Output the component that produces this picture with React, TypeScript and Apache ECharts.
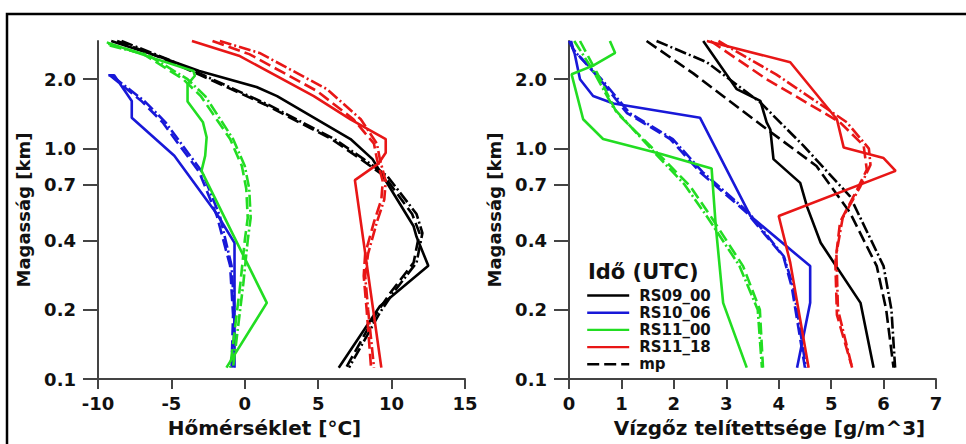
import React, { useEffect, useRef } from "react";
import * as echarts from "echarts";

// Heights (km) on a log axis
const yTicks = [0.1, 0.2, 0.4, 0.7, 1.0, 2.0];
const yMin = 0.1;
const yMax = 2.93;
const tempTicks = { min: -10, max: 15, interval: 5 };
const wvTicks = { min: 0, max: 7, interval: 1 };

// ---------- Left panel: temperature [°C] vs height [km] ----------
const tRS09_00 = [[-9.1, 2.93], [-6.0, 2.53], [-3.1, 2.17], [0.8, 1.85], [2.2, 1.69], [7.2, 1.1], [8.7, 0.9], [9.4, 0.76], [11.5, 0.46], [11.7, 0.414], [12.5, 0.31], [9.2, 0.207], [6.4, 0.112]];
const tMp09 = [[-8.7, 2.93], [-5.5, 2.45], [-3.0, 2.08], [1.4, 1.55], [5.9, 1.1], [7.9, 0.9], [9.5, 0.76], [11.4, 0.52], [11.9, 0.43], [11.5, 0.32], [9.9, 0.236], [9.0, 0.194], [6.9, 0.112]];
const tDd09 = [[-8.4, 2.93], [-5.3, 2.45], [-2.8, 2.08], [1.6, 1.55], [6.1, 1.1], [8.1, 0.9], [9.7, 0.76], [11.7, 0.52], [12.1, 0.43], [11.7, 0.32], [10.1, 0.236], [9.2, 0.194], [7.1, 0.112]];

const tRS10_06 = [[-9.3, 2.08], [-8.9, 2.08], [-7.7, 1.61], [-7.7, 1.36], [-4.8, 0.93], [-1.9, 0.52], [-0.7, 0.39], [-0.7, 0.112]];
const tMp10 = [[-9.2, 2.08], [-7.0, 1.6], [-5.6, 1.3], [-3.1, 0.79], [-1.9, 0.51], [-1.0, 0.31], [-0.8, 0.19], [-0.9, 0.112]];
const tDd10 = [[-9.0, 2.06], [-6.8, 1.6], [-5.4, 1.3], [-2.9, 0.79], [-1.7, 0.51], [-0.9, 0.31], [-0.7, 0.19], [-0.8, 0.112]];

const tRS11_00 = [[-9.4, 2.89], [-6.5, 2.5], [-3.5, 2.17], [-3.4, 2.07], [-3.9, 1.9], [-3.9, 1.6], [-2.85, 1.3], [-2.6, 1.12], [-2.7, 0.93], [-2.95, 0.8], [1.5, 0.214], [-1.25, 0.112]];
const tMp11 = [[-9.3, 2.85], [-6.9, 2.57], [-4.2, 2.0], [-3.0, 1.69], [-1.0, 1.1], [-0.2, 0.84], [0.1, 0.67], [0.2, 0.5], [0.0, 0.4], [-0.3, 0.26], [-0.7, 0.16], [-1.0, 0.112]];
const tDd11 = [[-9.2, 2.8], [-6.6, 2.55], [-3.9, 2.0], [-2.7, 1.69], [-0.8, 1.1], [0.0, 0.84], [0.3, 0.67], [0.4, 0.5], [0.2, 0.4], [-0.1, 0.26], [-0.5, 0.16], [-0.8, 0.112]];

const tRS11_18 = [[-3.6, 2.93], [-0.4, 2.53], [4.7, 1.69], [7.2, 1.34], [9.6, 1.1], [9.6, 0.96], [9.1, 0.86], [7.5, 0.73], [9.3, 0.112]];
const tMp18 = [[-2.2, 2.93], [0.3, 2.57], [4.9, 1.78], [7.4, 1.34], [8.8, 1.05], [9.0, 0.9], [9.4, 0.72], [9.3, 0.6], [8.8, 0.48], [8.2, 0.35], [8.1, 0.28], [8.3, 0.2], [8.6, 0.112]];
const tDd18 = [[-1.7, 2.93], [1.0, 2.6], [5.6, 1.81], [7.9, 1.34], [9.0, 1.05], [9.2, 0.9], [9.6, 0.72], [9.5, 0.6], [9.0, 0.48], [8.4, 0.35], [8.2, 0.28], [8.4, 0.2], [8.8, 0.112]];

// ---------- Right panel: water vapour saturation [g/m^3] vs height [km] ----------
const wRS09_00 = [[2.56, 2.93], [3.2, 1.81], [3.65, 1.61], [3.77, 1.3], [3.84, 1.21], [3.9, 0.9], [4.41, 0.71], [4.54, 0.56], [4.8, 0.39], [5.56, 0.214], [5.81, 0.112]];
const wMp09 = [[1.48, 2.93], [2.37, 2.12], [3.52, 1.34], [4.72, 0.84], [5.36, 0.527], [5.87, 0.309], [6.05, 0.2], [6.19, 0.112]];
const wDd09 = [[1.67, 2.93], [2.63, 2.37], [3.65, 1.585], [4.47, 1.03], [5.36, 0.62], [6.0, 0.309], [6.15, 0.2], [6.22, 0.112]];

const wRS10_06 = [[0.02, 2.93], [0.11, 2.57], [0.21, 2.0], [0.46, 1.69], [0.85, 1.57], [2.5, 1.36], [3.46, 0.51], [4.6, 0.309], [4.6, 0.214], [4.35, 0.112]];
const wMp10 = [[0.04, 2.93], [0.08, 2.7], [0.59, 2.0], [1.1, 1.43], [1.93, 1.1], [2.5, 0.79], [3.39, 0.527], [4.09, 0.34], [4.25, 0.25], [4.5, 0.112]];
const wDd10 = [[0.0, 2.93], [0.1, 2.65], [0.62, 2.0], [1.15, 1.43], [1.98, 1.1], [2.55, 0.79], [3.43, 0.527], [4.1, 0.34], [4.28, 0.25], [4.52, 0.112]];

const wRS11_00 = [[0.78, 2.93], [0.88, 2.6], [0.46, 2.29], [0.05, 2.1], [0.27, 1.34], [0.65, 1.1], [1.74, 0.95], [2.72, 0.82], [2.8, 0.46], [2.94, 0.214], [3.39, 0.112]];
const wMp11 = [[0.21, 2.93], [0.53, 2.14], [0.91, 1.43], [1.74, 0.93], [2.31, 0.687], [2.75, 0.49], [3.32, 0.309], [3.64, 0.2], [3.7, 0.112]];
const wDd11 = [[0.1, 2.93], [0.45, 2.2], [0.85, 1.5], [1.65, 0.95], [2.2, 0.7], [2.65, 0.5], [3.25, 0.31], [3.6, 0.2], [3.68, 0.112]];

const wRS11_18 = [[2.63, 2.93], [4.22, 2.37], [5.11, 1.34], [5.24, 1.01], [6.0, 0.91], [6.23, 0.8], [4.0, 0.51], [4.22, 0.32], [4.57, 0.112]];
const wMp18 = [[2.7, 2.93], [3.77, 2.0], [5.17, 1.3], [5.62, 1.03], [5.68, 0.81], [5.49, 0.66], [5.17, 0.48], [5.08, 0.32], [5.11, 0.19], [5.4, 0.112]];
const wDd18 = [[2.85, 2.93], [3.95, 2.1], [5.3, 1.3], [5.72, 1.0], [5.75, 0.85], [5.55, 0.68], [5.22, 0.5], [5.1, 0.35], [5.13, 0.2], [5.4, 0.112]];

const legendNames = ["RS09_00", "RS10_06", "RS11_00", "RS11_18", "mp"];
const BLACK = "#000000";
const BLUE = "#1818d8";
const GREEN = "#22dd22";
const RED = "#e81616";

const FONT = "'DejaVu Sans', Verdana, sans-serif";
const DASH = [12, 5];
const DASHDOT = [12, 3, 2, 3];

const GRID_W = 367;
const Y_TICK_LEN = 15;

function line(name: string, data: number[][], color: string, type: any, idx: number) {
  return {
    type: "line",
    name,
    data,
    xAxisIndex: idx,
    yAxisIndex: idx,
    symbol: "none",
    showSymbol: false,
    silent: true,
    clip: false,
    lineStyle: { color, width: 2.6, type },
    itemStyle: { color },
    z: 3,
  };
}

// y-axis tick marks drawn outside the plot, at the yTicks heights, through the axes' scales
function yTickSeries(idx: number, t: any) {
  const unitsPerPx = (t.max - t.min) / GRID_W;
  const x0 = t.min - Y_TICK_LEN * unitsPerPx;
  return {
    type: "lines",
    name: "yticks" + idx,
    coordinateSystem: "cartesian2d",
    xAxisIndex: idx,
    yAxisIndex: idx,
    silent: true,
    clip: false,
    polyline: false,
    symbol: ["none", "none"],
    lineStyle: { color: "#444", width: 2, opacity: 1, curveness: 0 },
    data: yTicks.map((h) => ({ coords: [[x0, h], [t.min, h]] })),
    z: 4,
  };
}

function xAx(idx: number, t: any, name: string, pad: number[]) {
  return {
    type: "value",
    gridIndex: idx,
    min: t.min,
    max: t.max,
    interval: t.interval,
    name,
    nameLocation: "middle",
    nameGap: 39,
    nameTextStyle: { fontFamily: FONT, fontWeight: "bold", fontSize: 20, color: "#111", padding: pad },
    axisLine: { show: true, onZero: false, lineStyle: { color: "#444", width: 2 } },
    axisTick: { show: true, length: 10, lineStyle: { color: "#444", width: 2 } },
    axisLabel: { margin: 15, fontFamily: FONT, fontWeight: "bold", fontSize: 18, color: "#111", showMinLabel: true, showMaxLabel: true },
    splitLine: { show: false },
  };
}

function yAx(idx: number) {
  return {
    type: "log",
    gridIndex: idx,
    min: yMin,
    max: yMax,
    name: "Magasság [km]",
    nameLocation: "middle",
    nameGap: 66,
    nameTextStyle: { fontFamily: FONT, fontWeight: "bold", fontSize: 18, color: "#111" },
    axisLine: { show: true, onZero: false, lineStyle: { color: "#444", width: 2 } },
    axisTick: { show: true, length: Y_TICK_LEN, customValues: yTicks, lineStyle: { color: "#444", width: 2 } },
    axisLabel: {
      customValues: yTicks,
      margin: 22,
      fontFamily: FONT,
      fontWeight: "bold",
      fontSize: 18,
      color: "#111",
      formatter: (v: number) => Number(v).toFixed(1),
    },
    splitLine: { show: false },
  };
}

export default function App() {
  const ref = useRef<HTMLDivElement>(null);
  useEffect(() => {
    document.body.style.margin = "0";
    const chart = echarts.init(ref.current!, null, { renderer: "svg" });
    const series = [
      line("RS09_00", tRS09_00, BLACK, "solid", 0),
      line("mp", tMp09, BLACK, DASH, 0),
      line("dd09", tDd09, BLACK, DASHDOT, 0),
      line("RS10_06", tRS10_06, BLUE, "solid", 0),
      line("mp10", tMp10, BLUE, DASH, 0),
      line("dd10", tDd10, BLUE, DASHDOT, 0),
      line("RS11_00", tRS11_00, GREEN, "solid", 0),
      line("mp11", tMp11, GREEN, DASH, 0),
      line("dd11", tDd11, GREEN, DASHDOT, 0),
      line("RS11_18", tRS11_18, RED, "solid", 0),
      line("mp18", tMp18, RED, DASH, 0),
      line("dd18", tDd18, RED, DASHDOT, 0),
      line("RS09_00", wRS09_00, BLACK, "solid", 1),
      line("mp", wMp09, BLACK, DASH, 1),
      line("dd09", wDd09, BLACK, DASHDOT, 1),
      line("RS10_06", wRS10_06, BLUE, "solid", 1),
      line("mp10", wMp10, BLUE, DASH, 1),
      line("dd10", wDd10, BLUE, DASHDOT, 1),
      line("RS11_00", wRS11_00, GREEN, "solid", 1),
      line("mp11", wMp11, GREEN, DASH, 1),
      line("dd11", wDd11, GREEN, DASHDOT, 1),
      line("RS11_18", wRS11_18, RED, "solid", 1),
      line("mp18", wMp18, RED, DASH, 1),
      line("dd18", wDd18, RED, DASHDOT, 1),
      yTickSeries(0, tempTicks),
      yTickSeries(1, wvTicks),
    ];
    chart.setOption({
      animation: false,
      backgroundColor: "#ffffff",
      textStyle: { fontFamily: FONT },
      grid: [
        { left: 98, top: 41, width: GRID_W, bottom: 65 },
        { left: 569, top: 41, width: GRID_W, bottom: 65 },
      ],
      xAxis: [
        xAx(0, tempTicks, "Hőmérséklet [°C]", [0, 34, 0, 0]),
        xAx(1, wvTicks, "Vízgőz telítettsége [g/m^3]", [0, 0, 0, 34]),
      ],
      yAxis: [yAx(0), yAx(1)],
      legend: {
        data: legendNames,
        orient: "vertical",
        left: 581,
        top: 283,
        itemWidth: 42,
        itemHeight: 14,
        itemGap: 2.2,
        selectedMode: false,
        itemStyle: { opacity: 0 },
        lineStyle: { width: 2.4 },
        textStyle: { fontFamily: FONT, fontWeight: "bold", fontSize: 15, color: "#111", padding: [0, 0, 0, 5] },
      },
      graphic: [
        {
          type: "rect",
          shape: { x: 7, y: 14, width: 1000, height: 500 },
          style: { fill: "none", stroke: "#000", lineWidth: 2.5 },
          silent: true,
        },
        {
          type: "text",
          left: 588,
          top: 261,
          style: { text: "Idő (UTC)", fontFamily: FONT, fontWeight: "bold", fontSize: 21, fill: "#111" },
          silent: true,
        },
      ],
      series,
    });
    return () => chart.dispose();
  }, []);
  return <div ref={ref} style={{ width: 966, height: 444 }} />;
}
